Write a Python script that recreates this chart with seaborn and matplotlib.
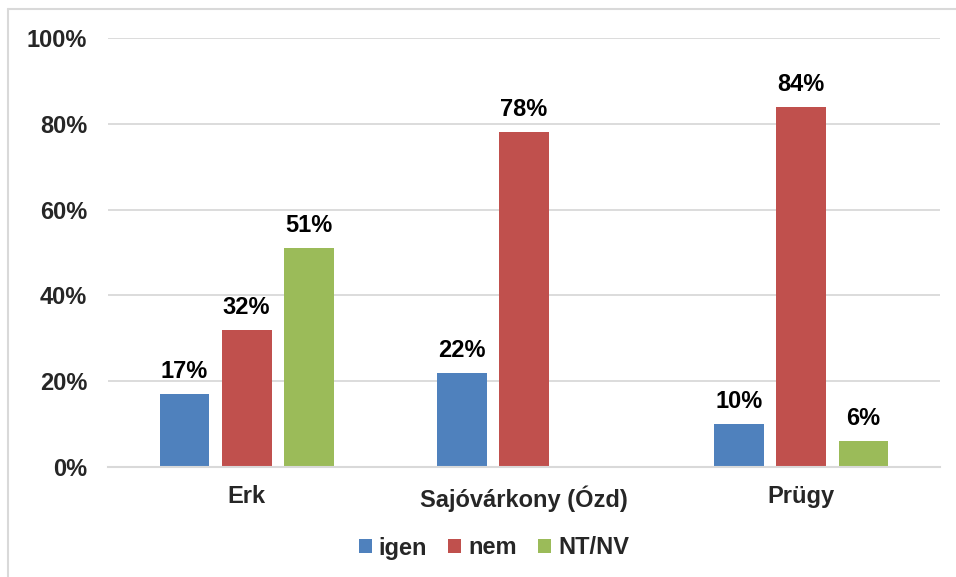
import numpy as np
import pandas as pd
import seaborn as sns
import matplotlib
matplotlib.use("Agg")
import matplotlib.pyplot as plt
from matplotlib.lines import Line2D
from matplotlib.patches import Patch

# Survey answers per settlement (share of respondents, %)
settlements = ["Erk", "Sajóvárkony (Ózd)", "Prügy"]
answers = ["igen", "nem", "NT/NV"]
igen = [17, 22, 10]
nem = [32, 78, 84]
nt_nv = [51, np.nan, 6]
y_ticks = [0, 20, 40, 60, 80, 100]
palette = ["#4F81BD", "#C0504D", "#9BBB59"]

rows = []
for series, vals in zip(answers, [igen, nem, nt_nv]):
    for s, v in zip(settlements, vals):
        rows.append({"settlement": s, "answer": series, "value": v})
df = pd.DataFrame(rows)

sns.set_theme(style="white")
plt.rcParams["font.family"] = ["Liberation Sans", "DejaVu Sans"]
plt.rcParams["font.weight"] = "bold"

W, H = 956, 577
fig = plt.figure(figsize=(W / 100, H / 100), dpi=100)
ax = fig.add_axes([108 / W, 1 - 467 / H, (940 - 108) / W, (467 - 38) / H])

sns.barplot(data=df, x="settlement", y="value", hue="answer",
            order=settlements, hue_order=answers, palette=palette,
            width=0.672, gap=0.2, saturation=1, errorbar=None,
            linewidth=0, legend=False, ax=ax)

ax.set_xlim(-0.5, 2.5)
ax.set_ylim(0, 100)
ax.set_yticks(y_ticks)
ax.set_yticklabels([f"{t}%" for t in y_ticks], fontweight="bold", fontsize=17)
ax.set_xticks(range(len(settlements)))
ax.set_xticklabels(settlements, fontweight="bold", fontsize=17)
ax.set_xlabel("")
ax.set_ylabel("")
ax.tick_params(axis="y", length=0, pad=15)
ax.tick_params(axis="x", length=0, pad=13)

ax.grid(False)
for t in y_ticks[1:]:
    ax.axhline(t, color="#D9D9D9", lw=1.3, zorder=0)
for side in ["top", "right", "left"]:
    ax.spines[side].set_visible(False)
ax.spines["bottom"].set_color("#D9D9D9")
ax.spines["bottom"].set_linewidth(1.5)

# Value labels above each bar
for container in ax.containers:
    for bar in container:
        h = bar.get_height()
        if np.isnan(h) or h == 0:
            continue
        ax.annotate(f"{h:.0f}%", (bar.get_x() + bar.get_width() / 2, h),
                    xytext=(0, 11.5), textcoords="offset points",
                    ha="center", va="baseline", fontsize=17,
                    fontweight="bold", color="black")

handles = [Patch(facecolor=c, edgecolor="none") for c in palette]
fig.legend(handles, answers, loc="center", bbox_to_anchor=(494 / W, 1 - 548 / H),
           ncol=3, frameon=False, handlelength=0.55,
           handleheight=0.55, handletextpad=0.3, columnspacing=0.9,
           prop={"weight": "bold", "size": 17})

# Light outer frame of the chart area
fig.add_artist(Line2D([8 / W, 8 / W], [1 - 9 / H, 0], transform=fig.transFigure,
                      color="#D9D9D9", lw=1.5))
fig.add_artist(Line2D([8 / W, 1], [1 - 9 / H, 1 - 9 / H], transform=fig.transFigure,
                      color="#D9D9D9", lw=1.5))

fig.savefig("out.png", dpi=100)
